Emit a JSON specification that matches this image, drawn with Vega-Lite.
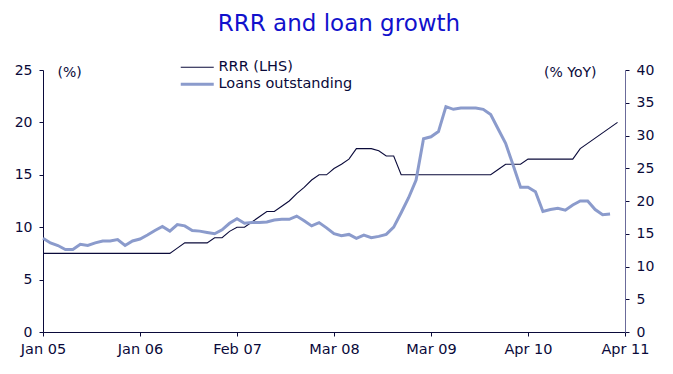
{
  "$schema": "https://vega.github.io/schema/vega-lite/v6.json",
  "width": 582,
  "height": 262,
  "autosize": "none",
  "padding": {"left": 43, "top": 70, "right": 48, "bottom": 42},
  "background": "white",
  "config": {
    "font": "DejaVu Sans",
    "view": {"stroke": null},
    "axis": {"grid": false, "labelFont": "DejaVu Sans", "labelFontSize": 14, "labelColor": "#0a0a3a", "domainColor": "#0a0a3a", "tickColor": "#0a0a3a", "tickSize": 4}
  },
  "title": {
    "text": "RRR and loan growth",
    "color": "#1111cc",
    "fontSize": 23,
    "fontWeight": "normal",
    "font": "DejaVu Sans",
    "anchor": "middle",
    "frame": "group",
    "dx": 5,
    "baseline": "alphabetic",
    "offset": 6
  },
  "data": {
    "values": [
      {"i":0,"rrr":7.5,"loans":14.3},{"i":1,"rrr":7.5,"loans":13.6},{"i":2,"rrr":7.5,"loans":13.2},{"i":3,"rrr":7.5,"loans":12.6},
      {"i":4,"rrr":7.5,"loans":12.6},{"i":5,"rrr":7.5,"loans":13.4},{"i":6,"rrr":7.5,"loans":13.2},{"i":7,"rrr":7.5,"loans":13.6},
      {"i":8,"rrr":7.5,"loans":13.9},{"i":9,"rrr":7.5,"loans":13.9},{"i":10,"rrr":7.5,"loans":14.1},{"i":11,"rrr":7.5,"loans":13.2},
      {"i":12,"rrr":7.5,"loans":13.9},{"i":13,"rrr":7.5,"loans":14.2},{"i":14,"rrr":7.5,"loans":14.8},{"i":15,"rrr":7.5,"loans":15.5},
      {"i":16,"rrr":7.5,"loans":16.1},{"i":17,"rrr":7.5,"loans":15.4},{"i":18,"rrr":8.0,"loans":16.4},{"i":19,"rrr":8.5,"loans":16.2},
      {"i":20,"rrr":8.5,"loans":15.5},{"i":21,"rrr":8.5,"loans":15.4},{"i":22,"rrr":8.5,"loans":15.2},{"i":23,"rrr":9.0,"loans":15.0},
      {"i":24,"rrr":9.0,"loans":15.6},{"i":25,"rrr":9.6,"loans":16.6},{"i":26,"rrr":10.0,"loans":17.3},{"i":27,"rrr":10.0,"loans":16.6},
      {"i":28,"rrr":10.5,"loans":16.7},{"i":29,"rrr":11.0,"loans":16.7},{"i":30,"rrr":11.5,"loans":16.8},{"i":31,"rrr":11.5,"loans":17.1},
      {"i":32,"rrr":12.0,"loans":17.2},{"i":33,"rrr":12.5,"loans":17.2},{"i":34,"rrr":13.2,"loans":17.7},{"i":35,"rrr":13.8,"loans":17.0},
      {"i":36,"rrr":14.5,"loans":16.2},{"i":37,"rrr":15.0,"loans":16.7},{"i":38,"rrr":15.0,"loans":15.9},{"i":39,"rrr":15.6,"loans":15.0},
      {"i":40,"rrr":16.0,"loans":14.7},{"i":41,"rrr":16.5,"loans":14.9},{"i":42,"rrr":17.5,"loans":14.3},{"i":43,"rrr":17.5,"loans":14.8},
      {"i":44,"rrr":17.5,"loans":14.4},{"i":45,"rrr":17.3,"loans":14.6},{"i":46,"rrr":16.8,"loans":14.9},{"i":47,"rrr":16.8,"loans":16.0},
      {"i":48,"rrr":15.0,"loans":18.2},{"i":49,"rrr":15.0,"loans":20.5},{"i":50,"rrr":15.0,"loans":23.2},{"i":51,"rrr":15.0,"loans":29.5},
      {"i":52,"rrr":15.0,"loans":29.8},{"i":53,"rrr":15.0,"loans":30.6},{"i":54,"rrr":15.0,"loans":34.4},{"i":55,"rrr":15.0,"loans":34.0},
      {"i":56,"rrr":15.0,"loans":34.2},{"i":57,"rrr":15.0,"loans":34.2},{"i":58,"rrr":15.0,"loans":34.2},{"i":59,"rrr":15.0,"loans":34.0},
      {"i":60,"rrr":15.0,"loans":33.2},{"i":61,"rrr":15.5,"loans":31.0},{"i":62,"rrr":16.0,"loans":28.8},{"i":63,"rrr":16.0,"loans":25.5},
      {"i":64,"rrr":16.0,"loans":22.1},{"i":65,"rrr":16.5,"loans":22.1},{"i":66,"rrr":16.5,"loans":21.4},{"i":67,"rrr":16.5,"loans":18.4},
      {"i":68,"rrr":16.5,"loans":18.7},{"i":69,"rrr":16.5,"loans":18.9},{"i":70,"rrr":16.5,"loans":18.6},{"i":71,"rrr":16.5,"loans":19.4},
      {"i":72,"rrr":17.5,"loans":20.0},{"i":73,"rrr":18.0,"loans":20.0},{"i":74,"rrr":18.5,"loans":18.7},{"i":75,"rrr":19.0,"loans":17.9},
      {"i":76,"rrr":19.5,"loans":18.0},{"i":77,"rrr":20.0,"loans":null}
    ]
  },
  "encoding": {
    "x": {
      "field": "i",
      "type": "quantitative",
      "scale": {"domain": [0, 78], "nice": false, "zero": false},
      "axis": {
        "title": null,
        "values": [0, 13, 26, 39, 52, 65, 78],
        "labelExpr": "['Jan 05','Jan 06','Feb 07','Mar 08','Mar 09','Apr 10','Apr 11'][round(datum.value/13)]",
        "labelOverlap": false,
        "labelFlush": false,
        "labelFontSize": 14.5,
        "labelPadding": 6
      }
    }
  },
  "layer": [
    {
      "transform": [{"fold": ["rrr"], "as": ["key", "value"]}],
      "mark": {"type": "line", "strokeWidth": 1.1, "interpolate": "linear"},
      "encoding": {
        "y": {
          "field": "value",
          "type": "quantitative",
          "scale": {"domain": [0, 25], "nice": false},
          "axis": {
            "orient": "left",
            "values": [0, 5, 10, 15, 20, 25],
            "labelPadding": 7,
            "title": "(%)",
            "titleAngle": 0,
            "titleX": 14,
            "titleY": 2,
            "titleAlign": "left",
            "titleBaseline": "middle",
            "titleFontWeight": "normal",
            "titleFontSize": 14,
            "titleColor": "#0a0a3a",
            "titleFont": "DejaVu Sans"
          }
        },
        "color": {
          "field": "key",
          "type": "nominal",
          "scale": {"domain": ["rrr", "loans"], "range": ["#0a0a3a", "#8b9bcc"]},
          "legend": {
            "title": null,
            "orient": "none",
            "legendX": 147,
            "legendY": -10,
            "symbolType": "stroke",
            "symbolSize": 1089,
            "symbolStrokeWidth": 2,
            "labelFontSize": 14.5,
            "labelColor": "#0a0a3a",
            "labelFont": "DejaVu Sans",
            "labelOffset": 14,
            "rowPadding": 2,
            "padding": 0,
            "labelExpr": "datum.value == 'rrr' ? 'RRR (LHS)' : 'Loans outstanding'",
            "encode": {"symbols": {"update": {"strokeWidth": {"signal": "datum.value == 'rrr' ? 1.1 : 3"}}}}
          }
        }
      }
    },
    {
      "transform": [{"fold": ["loans"], "as": ["key", "value"]}, {"filter": "datum.value != null"}],
      "mark": {"type": "line", "strokeWidth": 3, "interpolate": "linear"},
      "encoding": {
        "y": {
          "field": "value",
          "type": "quantitative",
          "scale": {"domain": [0, 40], "nice": false},
          "axis": {
            "orient": "right",
            "values": [0, 5, 10, 15, 20, 25, 30, 35, 40],
            "labelPadding": 7,
            "domainColor": "#6b6b9a",
            "title": "(% YoY)",
            "titleAngle": 0,
            "titleX": -29,
            "titleY": 2,
            "titleAlign": "right",
            "titleBaseline": "middle",
            "titleFontWeight": "normal",
            "titleFontSize": 14,
            "titleColor": "#0a0a3a",
            "titleFont": "DejaVu Sans"
          }
        },
        "color": {"field": "key", "type": "nominal"}
      }
    }
  ],
  "resolve": {"scale": {"y": "independent"}}
}
